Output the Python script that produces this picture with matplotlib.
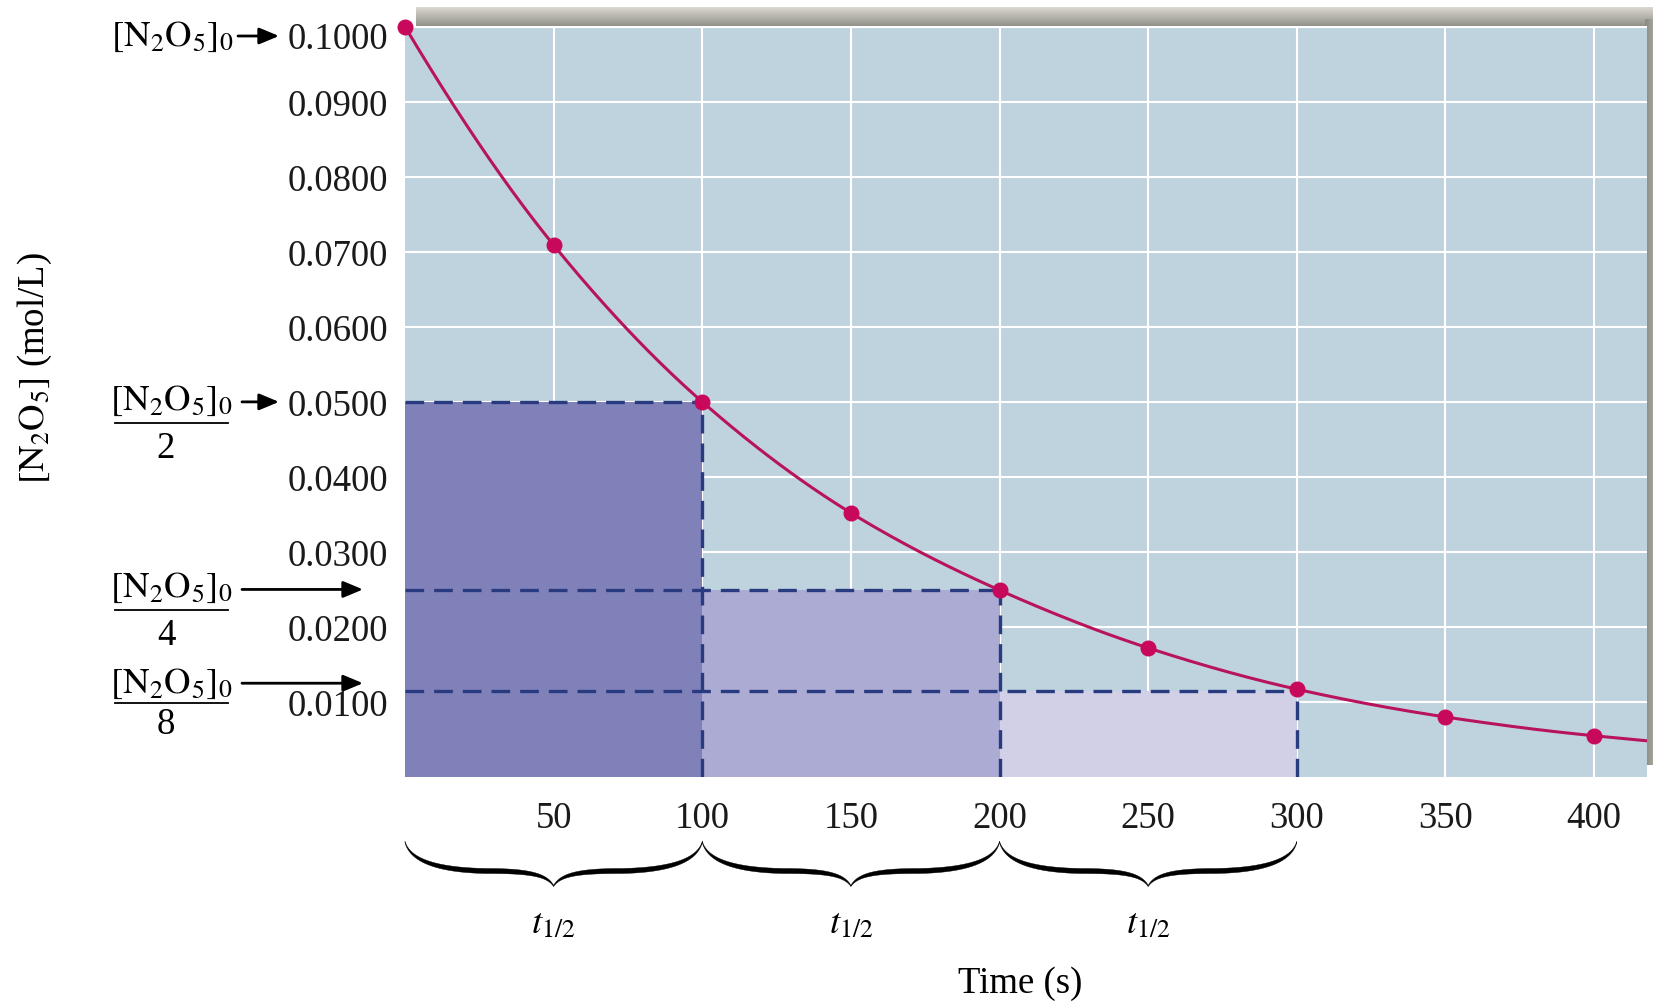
import numpy as np
import matplotlib
matplotlib.use("Agg")
import matplotlib.pyplot as plt
from matplotlib.patches import Polygon
from matplotlib.lines import Line2D
from matplotlib.colors import LinearSegmentedColormap
from matplotlib.transforms import ScaledTranslation, blended_transform_factory

# ---------------- data ----------------
time_s = [0, 50, 100, 150, 200, 250, 300, 350, 400]
conc = [0.1000, 0.0709, 0.0500, 0.0352, 0.0249, 0.0172, 0.0117, 0.0080, 0.0055]
half_start = [0, 100, 200]          # start of each half-life interval (s)
half_width = [100, 100, 100]
half_levels = [0.0500, 0.0249, 0.0114]   # shaded block heights / dashed levels
arrow_levels = [0.05, 0.025, 0.0125]     # [N2O5]0/2, /4, /8
fraction_denoms = ["2", "4", "8"]
yticks = [0.01, 0.02, 0.03, 0.04, 0.05, 0.06, 0.07, 0.08, 0.09, 0.10]
ytick_labels = ["0.0100", "0.0200", "0.0300", "0.0400", "0.0500",
                "0.0600", "0.0700", "0.0800", "0.0900", "0.1000"]
xticks = [50, 100, 150, 200, 250, 300, 350, 400]
xtick_labels = ["50", "100", "150", "200", "250", "300", "350", "400"]

# ---------------- style ----------------
plt.rcParams["font.family"] = ["Liberation Serif", "DejaVu Serif"]
plt.rcParams["mathtext.fontset"] = "stix"

W, H = 1653, 1003
fig = plt.figure(figsize=(W / 100, H / 100), dpi=100)
fig.patch.set_facecolor("white")

def fx(X):
    return X / W

def fy(Y):
    return 1 - Y / H

# shadow bands (behind the plot)
cmap_top = LinearSegmentedColormap.from_list("sh", ["#dedcd4", "#8b8a82"])
sh1 = fig.add_axes([fx(416), fy(29), fx(1653) - fx(416), (29 - 8) / H])
sh1.imshow(np.linspace(0, 1, 60)[:, None], aspect="auto", cmap=cmap_top)
sh1.axis("off")
sh2 = fig.add_axes([fx(1645), fy(766), fx(1653) - fx(1645), (766 - 20) / H])
sh2.imshow(np.linspace(0, 1, 20)[None, :], aspect="auto",
           cmap=LinearSegmentedColormap.from_list("sh2", ["#8b8a82", "#a5a49c"]))
sh2.axis("off")

ax = fig.add_axes([fx(405), fy(778), fx(1647) - fx(405), (778 - 27) / H])
ax.set_facecolor("#bfd3de")
ax.set_xlim(0, 417.8)
ax.set_ylim(0, 0.1001)
for s in ax.spines.values():
    s.set_visible(False)

ax.set_xticks(xticks)
ax.set_xticklabels(xtick_labels)
ax.set_yticks(yticks)
ax.set_yticklabels(ytick_labels)
ax.tick_params(axis="both", length=0, labelsize=26.5, colors="#1a1a1a")
ax.tick_params(axis="y", pad=12)
ax.tick_params(axis="x", pad=17)
ax.set_axisbelow(True)
ax.grid(True, color="white", lw=1.5)

# shift the top label slightly down like the reference
lab = ax.get_yticklabels()[-1]
lab.set_transform(lab.get_transform() + ScaledTranslation(0, -8 / 100, fig.dpi_scale_trans))

# shaded half-life blocks
ax.bar(half_start, half_levels, width=half_width, align="edge",
       color=["#8181b9", "#acabd3", "#d2d0e6"], edgecolor="none", zorder=1)

# dashed guide lines
dash_kw = dict(color="#283a80", lw=2.4, linestyle=(0, (5.6, 3.0)), zorder=2)
for x0, w, lev in zip(half_start, half_width, half_levels):
    ax.plot([0, x0 + w], [lev, lev], **dash_kw)
    ax.plot([x0 + w, x0 + w], [0, lev], **dash_kw)

# smooth curve through the points (monotone cubic Hermite rendering)
xs = np.array(time_s, float)
ys = np.array(conc, float)
h = np.diff(xs)
d = np.diff(ys) / h
m = np.zeros_like(ys)
for k in range(1, len(xs) - 1):
    w1 = 2 * h[k] + h[k - 1]
    w2 = h[k] + 2 * h[k - 1]
    m[k] = (w1 + w2) / (w1 / d[k - 1] + w2 / d[k])
m[0] = ((2 * h[0] + h[1]) * d[0] - h[0] * d[1]) / (h[0] + h[1])
m[-1] = ((2 * h[-1] + h[-2]) * d[-1] - h[-1] * d[-2]) / (h[-1] + h[-2])
cx, cy = [], []
for k in range(len(xs) - 1):
    t = np.linspace(0, 1, 40)
    h00 = 2 * t**3 - 3 * t**2 + 1
    h10 = t**3 - 2 * t**2 + t
    h01 = -2 * t**3 + 3 * t**2
    h11 = t**3 - t**2
    cx.extend(xs[k] + t * h[k])
    cy.extend(h00 * ys[k] + h10 * h[k] * m[k] + h01 * ys[k + 1] + h11 * h[k] * m[k + 1])
xend = ax.get_xlim()[1]
cx.append(xend)
cy.append(ys[-1] + m[-1] * (xend - xs[-1]))
ax.plot(cx, cy, color="#b8145c", lw=2.2, zorder=3, clip_on=True)
ax.plot(time_s, conc, "o", color="#c8085a", ms=10.5, zorder=4, clip_on=False)

# ---------------- left annotations ----------------
arrow_style = "-|>,head_length=0.6,head_width=0.25"
fs = 26.5
fig.text(fx(234), fy(37), r"$[\mathrm{N_2O_5}]_0$", ha="right", va="center", fontsize=fs)
ax.annotate("", xy=(fx(279), fy(37)), xytext=(fx(238), fy(37)),
            xycoords="figure fraction", textcoords="figure fraction",
            arrowprops=dict(arrowstyle=arrow_style, color="black", lw=2,
                            mutation_scale=20, shrinkA=0, shrinkB=0))

num_Y = [401, 588, 684]
bar_Y = [424, 611, 704]
den_Y = [449, 636, 725]
arrow_end_X = [279, 363, 363]
for lev, den, ny, by, dy, ex in zip(arrow_levels, fraction_denoms, num_Y, bar_Y, den_Y, arrow_end_X):
    fig.text(fx(171), fy(ny), r"$[\mathrm{N_2O_5}]_0$", ha="center", va="center", fontsize=fs)
    fig.add_artist(Line2D([fx(115), fx(228)], [fy(by), fy(by)], lw=1.3, color="black",
                          transform=fig.transFigure))
    fig.text(fx(166), fy(dy), den, ha="center", va="center", fontsize=fs)
    ax.annotate("", xy=(fx(ex), lev), xytext=(fx(242), lev),
                xycoords=("figure fraction", "data"), textcoords=("figure fraction", "data"),
                arrowprops=dict(arrowstyle=arrow_style, color="black", lw=2,
                                mutation_scale=20, shrinkA=0, shrinkB=0),
                annotation_clip=False)

# ---------------- braces and t1/2 ----------------
def bez(P0, P1, P2, P3, n=60):
    t = np.linspace(0, 1, n)[:, None]
    P0, P1, P2, P3 = map(np.array, (P0, P1, P2, P3))
    return (1 - t)**3 * P0 + 3 * (1 - t)**2 * t * P1 + 3 * (1 - t) * t**2 * P2 + t**3 * P3

halfA = bez((0, 0), (5, 18), (30, 28), (80, 29))
halfB = bez((80, 29), (120, 29), (140, 32), (147, 44))
half = np.vstack([halfA, halfB[1:]])
s = np.linspace(0, 1, len(half))
thick = 1.2 + 3.8 * np.sin(np.pi * s)

Ytop = 843
blend = blended_transform_factory(ax.transData, fig.transFigure)
for x0, w in zip(half_start, half_width):
    xa = ax.transData.transform((x0, 0))[0]
    xb = ax.transData.transform((x0 + w, 0))[0]
    hw = (xb - xa) / 2
    Lx = xa + half[:, 0] * hw / 147
    Rx = xb - half[:, 0] * hw / 147
    Yc = Ytop + half[:, 1]
    X = np.concatenate([Lx, Rx[::-1]])
    Y = np.concatenate([Yc, Yc[::-1]])
    T = np.concatenate([thick, thick[::-1]])
    upper = np.column_stack([X, Y - T / 2])
    lower = np.column_stack([X, Y + T / 2])[::-1]
    pts = np.vstack([upper, lower])
    pts_fig = np.column_stack([fx(pts[:, 0]), fy(pts[:, 1])])
    fig.add_artist(Polygon(pts_fig, closed=True, facecolor="black", edgecolor="black",
                           lw=0.3, transform=fig.transFigure))
    ax.text(x0 + w / 2, fy(924), r"$t_{1/2}$", transform=blend, ha="center", va="center",
            fontsize=fs)

fig.text(fx(1020), fy(984), "Time (s)", ha="center", va="center", fontsize=fs)
fig.text(fx(35), fy(368), r"$[\mathrm{N_2O_5}]$ (mol/L)", rotation=90,
         ha="center", va="center", fontsize=fs)

fig.savefig("out.png", dpi=100)
